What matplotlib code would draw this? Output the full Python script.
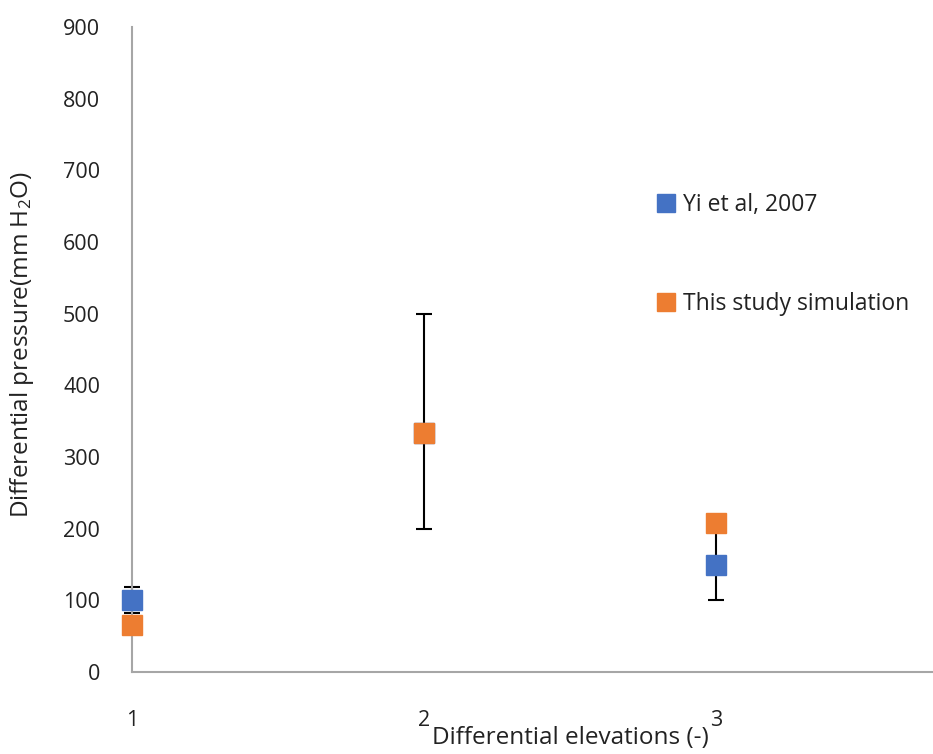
import matplotlib
matplotlib.use("Agg")
import matplotlib.pyplot as plt
import numpy as np

plt.rcParams['font.family'] = ['Open Sans', 'DejaVu Sans']
plt.rcParams['mathtext.fontset'] = 'custom'
plt.rcParams['mathtext.rm'] = 'Open Sans'
plt.rcParams['mathtext.it'] = 'Open Sans'

x_vals = [1, 2, 3]
yi_values = [101, 334, 150]
yi_err = [18, 0, 50]
sim_values = [66, 334, 208]
sim_err_low = [0, 134, 0]
sim_err_high = [0, 165, 0]

series_labels = ["Yi et al, 2007", "This study simulation"]
x_ticks = [1, 2, 3]
y_ticks = [0, 100, 200, 300, 400, 500, 600, 700, 800, 900]

W, H = 933, 754
fig = plt.figure(figsize=(W/100, H/100), dpi=100)
ax = fig.add_axes([132/W, 1-672/H, (933-132)/W, (672-27)/H])

blue = '#4472C4'
orange = '#ED7D31'

for art in [
    ax.errorbar(x_vals, yi_values, yerr=yi_err, fmt='none', ecolor='black',
                elinewidth=1.5, capsize=6, capthick=1.5, zorder=1),
    ax.errorbar(x_vals, sim_values, yerr=[sim_err_low, sim_err_high], fmt='none', ecolor='black',
                elinewidth=1.5, capsize=6, capthick=1.5, zorder=1)]:
    for child in art.get_children():
        child.set_clip_on(False)
ax.plot(x_vals, yi_values, linestyle='none', marker='s', markersize=14,
        color=blue, markeredgecolor=blue, label=series_labels[0], zorder=3, clip_on=False)
ax.plot(x_vals, sim_values, linestyle='none', marker='s', markersize=14,
        color=orange, markeredgecolor=orange, label=series_labels[1], zorder=4, clip_on=False)

ax.set_xlim(1, 1 + (933-132)/292)
ax.set_ylim(0, 900)
ax.set_xticks(x_ticks)
ax.set_yticks(y_ticks)
ax.tick_params(axis='both', length=0, labelsize=15.5, colors='#222222')
ax.tick_params(axis='y', pad=23)
ax.tick_params(axis='x', pad=27)
for s in ['top', 'right']:
    ax.spines[s].set_visible(False)
for s in ['left', 'bottom']:
    ax.spines[s].set_color('#A6A6A6')
    ax.spines[s].set_linewidth(1.5)

fig.text(570/W, 1-738/H, "Differential elevations (-)", ha='center', va='center',
         fontsize=17.5, color='#222222')
fig.text(22/W, 1-345/H, "Differential pressure(mm H$_2$O)", ha='center', va='center',
         rotation=90, fontsize=17.5, color='#222222')

leg = ax.legend(loc='upper left', bbox_to_anchor=(638/W, 1-177/H), bbox_transform=fig.transFigure,
                frameon=False, fontsize=16.5, labelspacing=3.25, handletextpad=0.25,
                handlelength=1.0, markerscale=0.95, borderpad=0.2)
for t in leg.get_texts():
    t.set_color('#222222')

fig.savefig("out.png", dpi=100)
